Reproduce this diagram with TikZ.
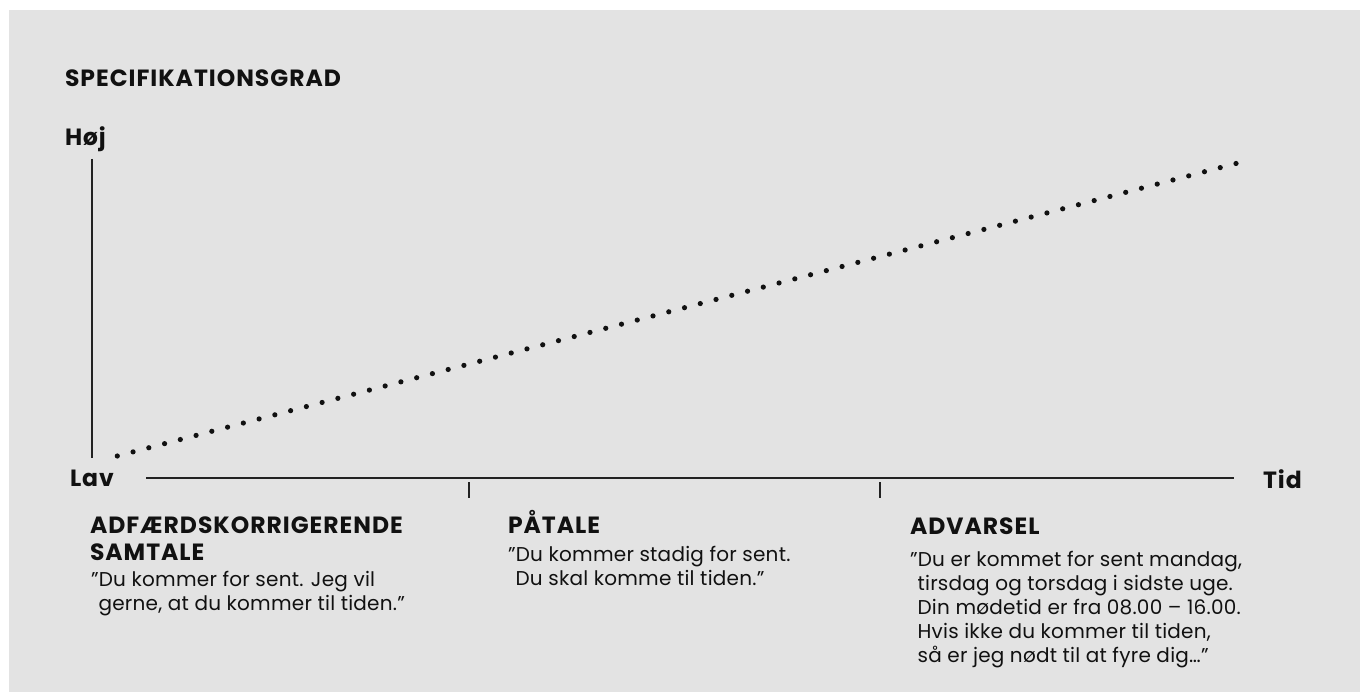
\documentclass[tikz,border=0pt]{standalone}
\usepackage{fontspec}
\setmainfont{Poppins}
\newfontfamily\hdfam{Poppins}[LetterSpace=4.2]
\newfontfamily\qtfam{Poppins}[LetterSpace=1.2]
\usetikzlibrary{calc}
\definecolor{panel}{HTML}{E3E3E3}
\definecolor{ink}{HTML}{111111}
\definecolor{axis}{HTML}{222222}
\newcommand{\hdfont}{\hdfam\fontsize{23.5}{26.7}\selectfont\bfseries}
\newcommand{\qtfont}{\qtfam\fontsize{20}{24}\selectfont}
\newcommand{\qind}{\hphantom{”}}
\begin{document}
\begin{tikzpicture}[x=1pt,y=-1pt,
  lbl/.style={inner sep=0pt,outer sep=0pt,anchor=base west,text=ink},
  heading/.style={lbl,font=\hdfont},
  quote/.style={lbl,font=\qtfont},
  axisline/.style={draw=axis,line width=2pt},
  dotmark/.style={fill=ink,draw=none}]
  % canvas and grey panel
  \useasboundingbox (0,0) rectangle (1360,692);
  \fill[white] (0,0) rectangle (1360,692);
  \fill[panel] (9,10) rectangle (1360,692);

  % axes
  \coordinate (ytop) at (91.5,159);
  \coordinate (ybot) at (91.5,458);
  \coordinate (xleft) at (146,478);
  \coordinate (xright) at (1234,478);
  \coordinate (t1a) at (469,482);
  \coordinate (t1b) at (469,498);
  \coordinate (t2a) at (880,482);
  \coordinate (t2b) at (880,498);
  \draw[axisline] (ytop) -- (ybot);
  \draw[axisline] (xleft) -- (xright);
  \draw[axisline] (t1a) -- (t1b);
  \draw[axisline] (t2a) -- (t2b);

  % dotted trend line
  \coordinate (ds) at (117.3,456);
  \coordinate (de) at (1236,163.5);
  \foreach \i in {0,...,71}
    \fill[dotmark] ($(ds)!\i/71!(de)$) circle (2.6);

  % axis labels
  \node[heading] (title) at (65,86.7) {SPECIFIKATIONSGRAD};
  \node[heading] (hoej) at (65,145.5) {Høj};
  \node[heading] (lav) at (70,486) {Lav};
  \node[heading] (tid) at (1263,488) {Tid};

  % stages
  \node[heading] (h1) at (90,533.3)
    {\vtop{\hbox{ADFÆRDSKORRIGERENDE}\hbox{SAMTALE}}};
  \node[quote] (q1) at (91,586.7)
    {\vtop{\hbox{”Du kommer for sent. Jeg vil}\hbox{\qind gerne, at du kommer til tiden.”}}};

  \node[heading] (h2) at (508,533.3) {PÅTALE};
  \node[quote] (q2) at (508,561.7)
    {\vtop{\hbox{”Du kommer stadig for sent.}\hbox{\qind Du skal komme til tiden.”}}};

  \node[heading] (h3) at (910,534) {ADVARSEL};
  \node[quote] (q3) at (910,566.7)
    {\vtop{\hbox{”Du er kommet for sent mandag,}
           \hbox{\qind tirsdag og torsdag i sidste uge.}
           \hbox{\qind Din mødetid er fra 08.00 – 16.00.}
           \hbox{\qind Hvis ikke du kommer til tiden,}
           \hbox{\qind så er jeg nødt til at fyre dig…”}}};
\end{tikzpicture}
\end{document}
